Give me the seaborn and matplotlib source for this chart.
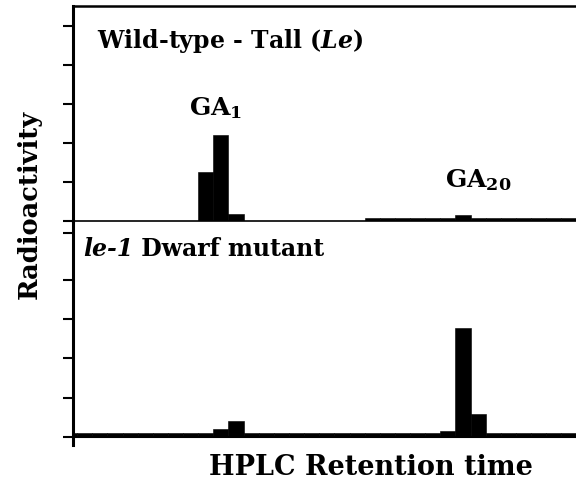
import numpy as np
import pandas as pd
import matplotlib
matplotlib.use("Agg")
import matplotlib.pyplot as plt
import seaborn as sns

# ---- data (fraction number, radioactivity in tick units) ----
fractions = list(range(0, 35))
tall_values = [0, 0, 0, 0, 0, 0, 0, 0, 0, 1.26, 2.2, 0.18, 0, 0, 0, 0, 0, 0, 0, 0,
               0.08, 0.08, 0.08, 0.08, 0.08, 0.08, 0.15, 0.08, 0.08, 0.08, 0.08, 0.08, 0.08, 0.08, 0.08]
dwarf_values = [0.1, 0.1, 0.1, 0.1, 0.1, 0.1, 0.1, 0.1, 0.1, 0.1, 0.2, 0.4, 0.1, 0.1, 0.1, 0.1, 0.1, 0.1, 0.1, 0.1,
                0.1, 0.1, 0.1, 0.1, 0.1, 0.15, 2.77, 0.6, 0.1, 0.1, 0.1, 0.1, 0.1, 0.1, 0.1]
tall_ticks = [0, 1, 2, 3, 4, 5]
dwarf_ticks = [0, 1, 2, 3, 4, 5.2]

df_tall = pd.DataFrame({"fraction": fractions, "value": tall_values})
df_dwarf = pd.DataFrame({"fraction": fractions, "value": dwarf_values})

sns.set_theme(style="white")
FONT = "DejaVu Serif"
plt.rcParams["font.family"] = [FONT, "Liberation Serif"]
plt.rcParams["font.weight"] = "bold"
plt.rcParams["text.color"] = "black"
plt.rcParams["mathtext.fontset"] = "custom"
plt.rcParams["mathtext.rm"] = FONT + ":bold"
plt.rcParams["mathtext.bf"] = FONT + ":bold"
plt.rcParams["mathtext.it"] = FONT + ":bold:italic"

W, H = 576, 486
fig = plt.figure(figsize=(W / 100, H / 100), dpi=100)
left = 73 / W
width = 1 - left + 0.002
ax1 = fig.add_axes([left, (H - 220.7) / H, width, 214.7 / H])
ax2 = fig.add_axes([left, (H - 445) / H, width, 224.3 / H])

for ax, df in ((ax1, df_tall), (ax2, df_dwarf)):
    sns.histplot(data=df, x="fraction", weights="value", discrete=True, ax=ax,
                 color="black", edgecolor="black", linewidth=0.4, alpha=1, legend=False)
    ax.set_xlim(0.22, 33.55)
    ax.set_xlabel("")
    ax.set_ylabel("")
    ax.set_xticks([])
    ax.spines["right"].set_visible(False)
    ax.spines["left"].set_linewidth(2.2)
    ax.spines["left"].set_color("black")
    ax.tick_params(axis="y", direction="out", length=7, width=1.5, color="black",
                   left=True, labelleft=False)
    ax.patch.set_alpha(0)

ax1.set_ylim(0, 5.5)
ax1.set_yticks(tall_ticks)
ax1.spines["top"].set_linewidth(1.8)
ax1.spines["top"].set_color("black")
ax1.spines["bottom"].set_linewidth(1.2)
ax1.spines["bottom"].set_color("black")
ax1.set_zorder(3)

ax2.set_ylim(-0.2, 5.5)
ax2.set_yticks(dwarf_ticks)
ax2.spines["top"].set_visible(False)
ax2.spines["bottom"].set_visible(False)
ax2.axhline(0, color="black", lw=1.5)

PS = 17     # panel text size
GS = 18     # GA label size
# panel annotations
ax1.text(97 / W, 1 - 48 / H, r"Wild-type - Tall ($\mathit{Le}$)", transform=fig.transFigure,
         fontsize=PS, fontweight="bold", ha="left", va="baseline", color="black")
t1 = fig.text(83 / W, 1 - 256 / H, "le-1", fontsize=PS, fontweight="bold",
              style="italic", ha="left", va="baseline", color="black")
fig.canvas.draw()
ax2.annotate(" Dwarf mutant", xy=(1, 0), xycoords=t1, fontsize=PS, fontweight="bold",
             ha="left", va="bottom", color="black")

fig.text(189 / W, 1 - 115 / H, r"GA$_1$", fontsize=GS, fontweight="bold",
         ha="left", va="baseline", color="black")
fig.text(445 / W, 1 - 187 / H, r"GA$_{20}$", fontsize=GS, fontweight="bold",
         ha="left", va="baseline", color="black")

fig.text(371 / W, 1 - 475 / H, "HPLC Retention time", fontsize=19.5, fontweight="bold",
         ha="center", va="baseline", color="black")
fig.text(29 / W, 1 - 204 / H, "Radioactivity", fontsize=18.5, fontweight="bold",
         rotation=90, ha="center", va="center", color="black")

fig.savefig("out.png", dpi=100)
